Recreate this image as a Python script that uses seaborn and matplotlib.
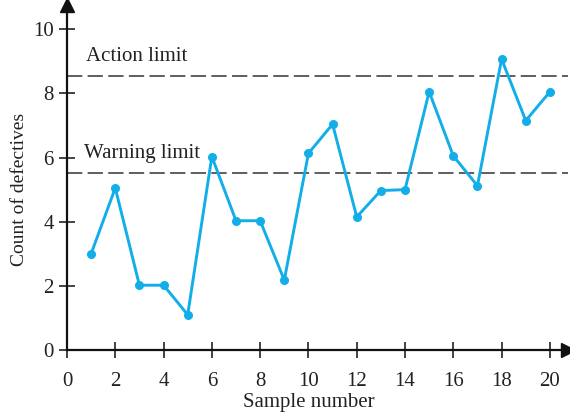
import matplotlib
matplotlib.use("Agg")
import matplotlib.pyplot as plt
import numpy as np
import pandas as pd
import seaborn as sns

sample = list(range(1, 21))
defectives = [3, 5.05, 2.02, 2.02, 1.1, 6.03, 4.03, 4.03, 2.18, 6.13,
              7.04, 4.15, 4.97, 5.0, 8.05, 6.05, 5.12, 9.07, 7.15, 8.05]
action_limit = 8.54
warning_limit = 5.52
xticks = [0, 2, 4, 6, 8, 10, 12, 14, 16, 18, 20]
yticks = [0, 2, 4, 6, 8, 10]

sns.set_style("white")
plt.rcParams['font.family'] = ['Liberation Serif', 'DejaVu Serif']

df = pd.DataFrame({'sample': sample, 'count': defectives})

fig = plt.figure(figsize=(5.7, 4.15), dpi=100)
ax = fig.add_axes([0.1175, 0.1566, 0.879, 0.831])

for lim in [action_limit, warning_limit]:
    ax.axhline(lim, color='#333333', lw=1.1, ls=(0, (10, 3.5)), zorder=1)

sns.lineplot(data=df, x='sample', y='count', ax=ax, color='#12AEE8',
             lw=2.1, marker='o', markersize=6.5, markeredgewidth=0, zorder=3)

fs = 15
ax.text(0.8, action_limit + 0.3, 'Action limit', fontsize=fs, va='bottom', color='#222222')
ax.text(0.7, warning_limit + 0.3, 'Warning limit', fontsize=fs, va='bottom', color='#222222')

ax.set_xlim(0, 20.75)
ax.set_ylim(0, 10.75)
ax.set_xticks(xticks)
ax.set_yticks(yticks)
ax.tick_params(bottom=True, left=True, direction='inout', length=11, width=1.1,
               color='#111111', labelcolor='#222222', labelsize=fs)
ax.tick_params(axis='x', pad=10)
ax.tick_params(axis='y', pad=4)
ax.set_xlabel('Sample number', fontsize=fs, color='#222222')
ax.set_ylabel('Count of defectives', fontsize=14, color='#222222')
ax.xaxis.set_label_coords(0.482, -0.125)
ax.yaxis.set_label_coords(-0.078, 0.465)

for s in ['top', 'right']:
    ax.spines[s].set_visible(False)
for s in ['left', 'bottom']:
    ax.spines[s].set_color('#111111')
    ax.spines[s].set_linewidth(1.6)

# arrow heads at the axis ends
ax.plot(1, 0, '>', color='#111111', markersize=10, transform=ax.transAxes, clip_on=False)
ax.plot(0, 1, '^', color='#111111', markersize=10, transform=ax.transAxes, clip_on=False)

fig.savefig('out.png', dpi=100)
